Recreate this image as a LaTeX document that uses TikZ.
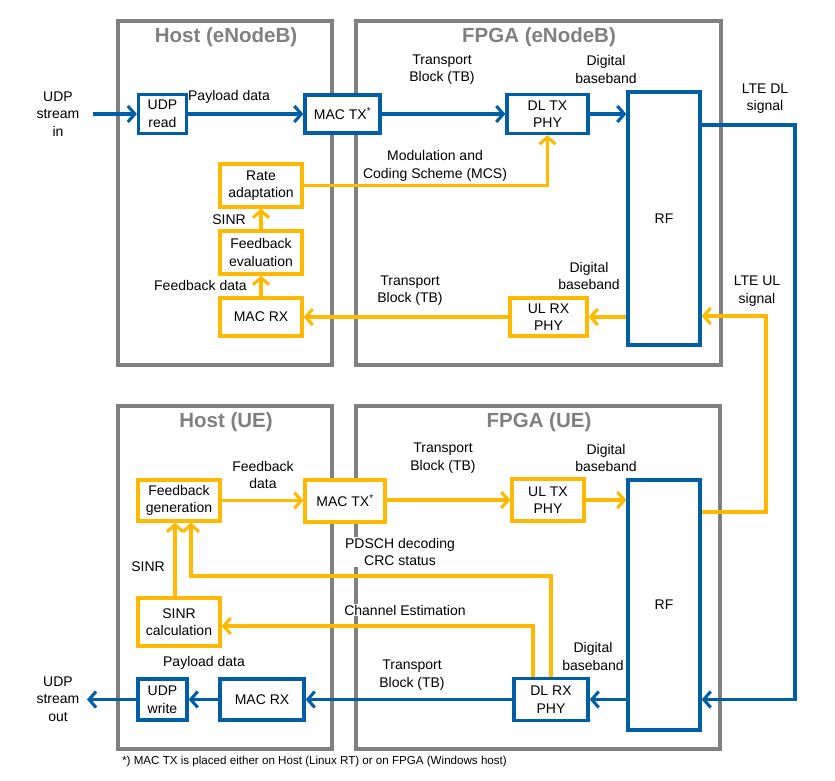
\documentclass[tikz,border=0pt]{standalone}
\usepackage{fontspec}
\setmainfont{Liberation Sans}
\usetikzlibrary{arrows.meta}
\definecolor{ablue}{RGB}{0,94,166}
\definecolor{ayel}{RGB}{255,185,0}
\definecolor{agray}{RGB}{128,128,128}
\begin{document}
\begin{tikzpicture}[x=1pt,y=-1pt,
 font=\fontsize{14}{17.5}\selectfont,
 cont/.style={draw=agray, line width=4.5pt, inner sep=0pt},
 ttl/.style={text=agray, font=\fontsize{20.5}{24}\selectfont\bfseries},
 bbox/.style={draw=ablue, line width=3.3pt, fill=white, align=center, inner sep=0pt},
 ybox/.style={draw=ayel, line width=3.3pt, fill=white, align=center, inner sep=0pt},
 barr/.style={draw=ablue, line width=3.1pt, -{Straight Barb[length=7pt,width=16pt]}},
 yarr/.style={draw=ayel, line width=3.1pt, -{Straight Barb[length=7pt,width=16pt]}},
 lbl/.style={align=center, inner sep=1pt},
 wlbl/.style={align=center, inner sep=1pt, fill=white},
]
\useasboundingbox (0,0) rectangle (835,781);
% containers
\node[cont, minimum width=214, minimum height=344] (hostE) at (225,193) {};
\node[cont, minimum width=365, minimum height=344] (fpgaE) at (538.5,193) {};
\node[cont, minimum width=214, minimum height=343] (hostU) at (225,577.5) {};
\node[cont, minimum width=364, minimum height=343] (fpgaU) at (538,577.5) {};
\node[ttl] (thostE) at (226,37) {Host (eNodeB)};
\node[ttl] (tfpgaE) at (539,37) {FPGA (eNodeB)};
\node[ttl] (thostU) at (226,422) {Host (UE)};
\node[ttl] (tfpgaU) at (539,422) {FPGA (UE)};

% eNodeB blocks
\node[bbox, minimum width=48, minimum height=39] (udpr) at (162.5,114) {UDP\\read};
\node[bbox, minimum width=75, minimum height=38] (mactxE) at (342.5,114) {MAC TX\textsuperscript{*}};
\node[bbox, minimum width=81, minimum height=39] (dltx) at (547.5,114) {DL TX\\PHY};
\node[bbox, minimum width=72, minimum height=253] (rfE) at (664,218.5) {RF};
\node[ybox, minimum width=82, minimum height=43] (rate) at (261,185.5) {Rate\\adaptation};
\node[ybox, minimum width=82, minimum height=43] (fbeval) at (261,252.5) {Feedback\\evaluation};
\node[ybox, minimum width=82, minimum height=38] (macrxE) at (261,317) {MAC RX};
\node[ybox, minimum width=77, minimum height=38] (ulrx) at (548.5,317) {UL RX\\PHY};

% UE blocks
\node[ybox, minimum width=82, minimum height=41] (fbgen) at (179,500.5) {Feedback\\generation};
\node[ybox, minimum width=80, minimum height=42] (mactxU) at (345,501) {MAC TX\textsuperscript{*}};
\node[ybox, minimum width=72, minimum height=42] (ultx) at (548,500) {UL TX\\PHY};
\node[bbox, minimum width=72, minimum height=250] (rfU) at (664,605) {RF};
\node[ybox, minimum width=82, minimum height=48] (sinr) at (179,622) {SINR\\calculation};
\node[bbox, minimum width=49, minimum height=41] (udpw) at (162.5,699.5) {UDP\\write};
\node[bbox, minimum width=84, minimum height=41] (macrxU) at (262,699.5) {MAC RX};
\node[bbox, minimum width=74, minimum height=42] (dlrx) at (551,699.5) {DL RX\\PHY};

% coordinates
\coordinate (inA) at (93,114);
\coordinate (outA) at (87,699.5);
\coordinate (dlA) at (795,125);
\coordinate (dlB) at (795,699.5);
\coordinate (ulA) at (766,512);
\coordinate (ulB) at (766,316);
\coordinate (pdA) at (191,576);
\coordinate (ceA) at (533,626);

% eNodeB connectors
\draw[barr] (inA) -- (udpr.west);
\draw[barr] (udpr.east) -- (mactxE.west);
\draw[barr] (mactxE.east) -- (dltx.west);
\draw[barr] (dltx.east) -- (rfE.west |- dltx.east);
\draw[barr] (rfE.east |- dlA) -- (dlA) -- (dlB) -- (rfU.east |- dlB);
\draw[yarr] (rfU.east |- ulA) -- (ulA) -- (ulB) -- (rfE.east |- ulB);
\draw[yarr] (rfE.west |- ulrx.east) -- (ulrx.east);
\draw[yarr] (ulrx.west) -- (macrxE.east);
\draw[yarr] (macrxE.north) -- (fbeval.south);
\draw[yarr] (fbeval.north) -- (rate.south);
\draw[yarr] (rate.east) -| (dltx.south);

% UE connectors
\draw[yarr] (fbgen.east) -- (mactxU.west |- fbgen.east);
\draw[yarr] (mactxU.east |- ultx.west) -- (ultx.west);
\draw[yarr] (ultx.east) -- (rfU.west |- ultx.east);
\draw[yarr] (dlrx.north) |- (pdA) -- (pdA |- fbgen.south);
\draw[yarr] (ceA |- dlrx.north) -- (ceA) -- (sinr.east |- ceA);
\draw[yarr] ([xshift=-4pt]sinr.north) -- ([xshift=-4pt]fbgen.south);
\draw[barr] (rfU.west |- dlrx.east) -- (dlrx.east);
\draw[barr] (dlrx.west) -- (macrxU.east);
\draw[barr] (macrxU.west) -- (udpw.east);
\draw[barr] (udpw.west) -- (outA);

% labels
\node[lbl] (l1) at (58,114) {UDP\\stream\\in};
\node[lbl] (l2) at (229,97) {Payload data};
\node[lbl] (l3) at (442,69.5) {Transport\\Block (TB)};
\node[lbl] (l4) at (606,69.5) {Digital\\baseband};
\node[lbl] (l5) at (435,166) {Modulation and\\Coding Scheme (MCS)};
\node[lbl] (l6) at (765,98.5) {LTE DL\\signal};
\node[lbl, anchor=east] (l7) at (247,220) {SINR};
\node[lbl, anchor=east] (l8) at (248,285) {Feedback data};
\node[lbl] (l9) at (410,290.5) {Transport\\Block (TB)};
\node[lbl] (l10) at (589,276) {Digital\\baseband};
\node[lbl] (l11) at (757,291) {LTE UL\\signal};
\node[lbl] (l12) at (263,475) {Feedback\\data};
\node[lbl] (l13) at (443,458) {Transport\\Block (TB)};
\node[lbl] (l14) at (606,458) {Digital\\baseband};
\node[wlbl] (l15) at (400,552) {PDSCH decoding\\CRC status};
\node[lbl] (l16) at (148,567) {SINR};
\node[wlbl] (l17) at (405,610) {Channel Estimation};
\node[lbl] (l18) at (204,663) {Payload data};
\node[lbl] (l19) at (412,675) {Transport\\Block (TB)};
\node[lbl] (l20) at (593,656.5) {Digital\\baseband};
\node[lbl] (l21) at (58,699) {UDP\\stream\\out};
\node[lbl, anchor=west, font=\fontsize{11.6}{13}\selectfont] (fn) at (121,761) {*) MAC TX is placed either on Host (Linux RT) or on FPGA (Windows host)};
\end{tikzpicture}
\end{document}
